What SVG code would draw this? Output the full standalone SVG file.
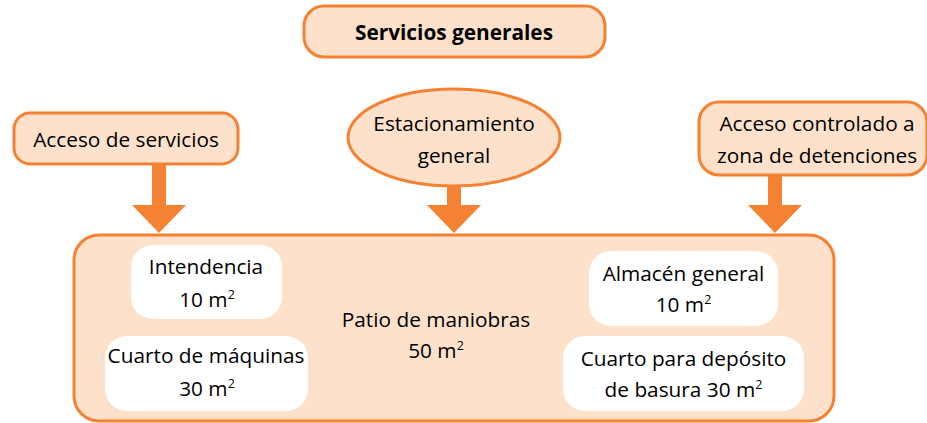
<svg xmlns="http://www.w3.org/2000/svg" width="927" height="423" viewBox="0 0 927 423">
<style>
.box{fill:#FDE1CB;stroke:#F58233;stroke-width:3}
.inner{fill:#FFFFFF;stroke:none}
.t{font-family:"Open Sans","Noto Sans","Liberation Sans",sans-serif;font-size:20.8px;fill:#000000;text-anchor:middle;font-weight:500}
.b{font-weight:bold}
.sup{font-size:12.5px}
.arrow{fill:#F58233;stroke:none}
</style>
<rect width="927" height="423" fill="#FFFFFF"/>
<g id="connectors">
<path class="arrow" d="M152,164 H166 V205 H186 L159,233 L132,205 H152 Z"/>
<path class="arrow" d="M447,183 H461 V205 H481 L454,233 L427,205 H447 Z"/>
<path class="arrow" d="M768,175 H782 V205 H802 L775,233 L748,205 H768 Z"/>
</g>
<g id="servicios-generales">
<rect class="box" x="304" y="6" width="301" height="51" rx="20"/>
<text class="t b" x="454" y="40">Servicios generales</text>
</g>
<g id="acceso-servicios">
<rect class="box" x="14" y="113" width="224" height="51" rx="16"/>
<text class="t" x="126" y="147">Acceso de servicios</text>
</g>
<g id="estacionamiento">
<ellipse class="box" cx="454" cy="137.5" rx="106" ry="48.5"/>
<text class="t" x="454" y="131">Estacionamiento</text>
<text class="t" x="454" y="163">general</text>
</g>
<g id="acceso-controlado">
<rect class="box" x="699" y="102" width="228" height="73" rx="20"/>
<text class="t" x="817" y="131">Acceso controlado a</text>
<text class="t" x="817" y="163">zona de detenciones</text>
</g>
<g id="patio">
<rect class="box" x="74" y="235" width="760" height="186" rx="25"/>
<text class="t" x="436" y="327">Patio de maniobras</text>
<text class="t" x="436" y="358">50 m<tspan class="sup" dy="-8">2</tspan></text>
</g>
<g id="intendencia">
<rect class="inner" x="131" y="245" width="151" height="74" rx="22"/>
<text class="t" x="206" y="274">Intendencia</text>
<text class="t" x="207" y="307">10 m<tspan class="sup" dy="-8">2</tspan></text>
</g>
<g id="cuarto-maquinas">
<rect class="inner" x="105" y="336" width="203" height="75" rx="22"/>
<text class="t" x="206" y="363">Cuarto de máquinas</text>
<text class="t" x="207" y="396">30 m<tspan class="sup" dy="-8">2</tspan></text>
</g>
<g id="almacen">
<rect class="inner" x="589" y="251" width="189" height="75" rx="22"/>
<text class="t" x="683.5" y="281">Almacén general</text>
<text class="t" x="683.5" y="312">10 m<tspan class="sup" dy="-8">2</tspan></text>
</g>
<g id="cuarto-basura">
<rect class="inner" x="563" y="336" width="241" height="75" rx="22"/>
<text class="t" x="683.5" y="366">Cuarto para depósito</text>
<text class="t" x="683.5" y="397">de basura 30 m<tspan class="sup" dy="-8">2</tspan></text>
</g>
</svg>
